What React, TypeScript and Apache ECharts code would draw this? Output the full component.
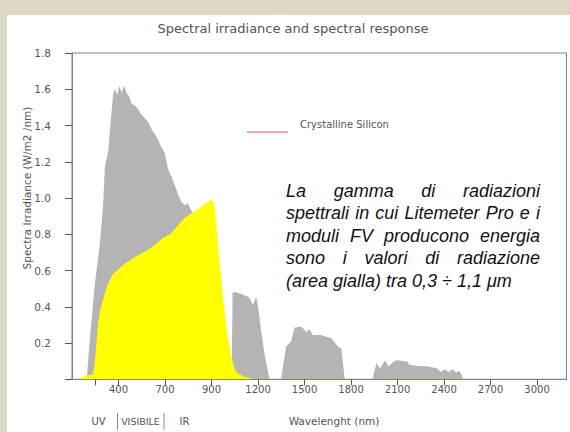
import React, { useEffect, useRef } from "react";
import * as echarts from "echarts";

// Spectral irradiance (grey area): wavelength (nm) and value (W/m2/nm)
const GRAY_NM = [95, 116, 148, 180, 191, 201, 212, 234, 244, 266, 277, 292, 305, 320, 335, 352, 369, 384, 405, 427, 448, 470, 491, 513, 545, 577, 598, 620, 641, 663, 684, 706, 727, 748, 770, 800, 850, 880, 910, 940, 960, 975, 1030, 1036, 1060, 1092, 1124, 1145, 1167, 1188, 1199, 1220, 1242, 1274, 1349, 1381, 1413, 1437, 1480, 1512, 1529, 1555, 1606, 1673, 1716, 1738, 1759, 1938, 1964, 1986, 2020, 2041, 2078, 2100, 2164, 2175, 2239, 2303, 2357, 2378, 2406, 2428, 2458, 2479, 2496, 2514, 2522];
const GRAY_VAL = [0, 0.23, 0.53, 0.75, 0.86, 0.97, 1.17, 1.26, 1.37, 1.58, 1.6, 1.57, 1.62, 1.58, 1.62, 1.58, 1.56, 1.52, 1.51, 1.49, 1.46, 1.44, 1.42, 1.38, 1.34, 1.28, 1.25, 1.16, 1.12, 1.07, 1.02, 0.98, 0.96, 0.97, 0.93, 0.9, 0.84, 0.78, 0.6, 0.35, 0.15, 0, 0, 0.48, 0.48, 0.47, 0.46, 0.45, 0.41, 0.455, 0.41, 0.27, 0.14, 0, 0, 0.18, 0.21, 0.286, 0.29, 0.26, 0.277, 0.244, 0.245, 0.226, 0.18, 0.17, 0, 0, 0.09, 0.06, 0.105, 0.07, 0.1, 0.105, 0.097, 0.08, 0.073, 0.07, 0.06, 0.04, 0.055, 0.04, 0.055, 0.036, 0.047, 0.024, 0];

// Crystalline silicon response (yellow area)
const YELLOW_NM = [50, 90, 137, 169, 185, 201, 217, 234, 266, 330, 416, 502, 587, 631, 727, 813, 877, 899, 912, 920, 941, 973, 1006, 1038, 1060, 1113, 1156, 1170];
const YELLOW_VAL = [0, 0.02, 0.03, 0.31, 0.39, 0.44, 0.49, 0.53, 0.58, 0.63, 0.68, 0.72, 0.78, 0.8, 0.89, 0.94, 0.98, 0.99, 0.98, 0.95, 0.75, 0.46, 0.23, 0.09, 0.04, 0.014, 0.005, 0];

// X axis ticks as drawn in the picture
const TICK_POS = [150, 300, 600, 900, 1200, 1500, 1800, 2100, 2400, 2700, 3000];
const LABEL_POS = [300, 600, 900, 1200, 1500, 1800, 2100, 2400, 2700, 3000];
const TICK_LABELS = ["400", "700", "900", "1200", "1500", "1800", "2100", "2400", "2700", "3000"];

const TITLE = "Spectral irradiance and spectral response";
const Y_NAME = "Spectra Irradiance (W/m2 /nm)";
const X_NAME = "Wavelenght (nm)";
const LEGEND_NAME = "Crystalline Silicon";
const NOTE_LINES = [
  "La gamma di radiazioni",
  "spettrali in cui Litemeter Pro e i",
  "moduli FV producono energia",
  "sono i valori di radiazione",
  "(area gialla) tra 0,3 ÷ 1,1 μm",
];

const FONT = "'DejaVu Sans', sans-serif";
const TXT = "#555";
const FRAME = "#7c7ab4";

export default function App() {
  const ref = useRef<HTMLDivElement>(null);
  useEffect(() => {
    const el = ref.current;
    if (!el) return;
    const chart = echarts.init(el, null, { renderer: "svg" });

    const gray = GRAY_NM.map((x, i) => [x, GRAY_VAL[i]]);
    const yellow = YELLOW_NM.map((x, i) => [x, YELLOW_VAL[i]]);

    // justified note text
    const noteFont = "italic 18px 'Liberation Sans', Arial, sans-serif";
    const canvas = document.createElement("canvas");
    const ctx = canvas.getContext("2d");
    const measure = (s: string) => {
      if (ctx) {
        ctx.font = noteFont;
        return ctx.measureText(s).width;
      }
      return s.length * 8;
    };
    const noteLeft = 286;
    const noteRight = 540;
    const noteTop = 191;
    const noteLH = 22.4;
    const noteEls: any[] = [];
    NOTE_LINES.forEach((line, li) => {
      const y = noteTop + li * noteLH;
      const words = line.split(" ");
      if (li === NOTE_LINES.length - 1 || words.length < 2) {
        noteEls.push({
          type: "text",
          x: noteLeft,
          y,
          silent: true,
          style: { text: line, font: noteFont, fill: "#111", align: "left", verticalAlign: "middle" },
        });
        return;
      }
      const widths = words.map(measure);
      const total = widths.reduce((a, b) => a + b, 0);
      const gap = (noteRight - noteLeft - total) / (words.length - 1);
      let x = noteLeft;
      words.forEach((w, wi) => {
        noteEls.push({
          type: "text",
          x,
          y,
          silent: true,
          style: { text: w, font: noteFont, fill: "#111", align: "left", verticalAlign: "middle" },
        });
        x += widths[wi] + gap;
      });
    });

    const smallText = (text: string, x: number, y: number, size: number, align = "center", rotation = 0) => ({
      type: "text",
      x,
      y,
      rotation,
      silent: true,
      style: { text, fill: TXT, fontSize: size, fontFamily: FONT, align, verticalAlign: "middle" },
    });

    const option: any = {
      animation: false,
      backgroundColor: "#ddd8c4",
      grid: {
        left: 72,
        top: 53,
        right: 3.5,
        bottom: 52.7,
        containLabel: false,
        outerBoundsMode: "none",
        show: true,
        borderColor: FRAME,
        borderWidth: 1,
        backgroundColor: "transparent",
      },
      xAxis: {
        type: "value",
        min: 0,
        max: 3190,
        axisLine: { show: true, lineStyle: { color: FRAME, width: 1 } },
        axisTick: { show: true, length: 6, lineStyle: { color: "#555" }, customValues: TICK_POS },
        axisLabel: {
          customValues: LABEL_POS,
          formatter: (v: number) => {
            const i = LABEL_POS.indexOf(v);
            return i >= 0 ? TICK_LABELS[i] : "";
          },
          margin: 5,
          fontSize: 10,
          color: TXT,
          fontFamily: FONT,
        },
        splitLine: { show: false },
      },
      yAxis: {
        type: "value",
        min: 0,
        max: 1.8,
        interval: 0.2,
        axisLine: { show: true, lineStyle: { color: FRAME, width: 1 } },
        axisTick: { show: true, length: 7, lineStyle: { color: "#555" } },
        axisLabel: {
          formatter: (v: number) => (v === 0 ? "" : v.toFixed(1)),
          margin: 21,
          fontSize: 10.5,
          color: TXT,
          fontFamily: FONT,
        },
        splitLine: { show: false },
      },
      series: [
        {
          type: "line",
          name: "Spectral irradiance",
          data: gray,
          showSymbol: false,
          silent: true,
          z: 2,
          lineStyle: { width: 0, opacity: 0 },
          areaStyle: { color: "#b4b4b4", opacity: 1 },
        },
        {
          type: "line",
          name: LEGEND_NAME,
          data: yellow,
          showSymbol: false,
          silent: true,
          smooth: 0.2,
          z: 3,
          lineStyle: { width: 0, opacity: 0 },
          areaStyle: { color: "#ffff00", opacity: 1 },
        },
      ],
      graphic: [
        {
          type: "rect",
          z: -100,
          silent: true,
          shape: { x: 7, y: 15, width: 563, height: 417 },
          style: { fill: "#ffffff" },
        },
        smallText(TITLE, 293, 28, 13),
        smallText(Y_NAME, 27, 188, 10.5, "center", Math.PI / 2),
        {
          type: "line",
          silent: true,
          shape: { x1: 247, y1: 132, x2: 288, y2: 132 },
          style: { stroke: "#d4587a", lineWidth: 1 },
        },
        smallText(LEGEND_NAME, 300, 124, 10, "left"),
        smallText("UV", 98.5, 421, 10),
        {
          type: "line",
          silent: true,
          shape: { x1: 117.5, y1: 413, x2: 117.5, y2: 430 },
          style: { stroke: "#d07070", lineWidth: 1 },
        },
        smallText("VISIBILE", 140.5, 421, 9.5),
        {
          type: "line",
          silent: true,
          shape: { x1: 164, y1: 413, x2: 164, y2: 430 },
          style: { stroke: "#d07070", lineWidth: 1 },
        },
        smallText("IR", 184.5, 421, 10),
        smallText(X_NAME, 334, 421, 10.5),
        ...noteEls,
      ],
    };
    chart.setOption(option);
    return () => chart.dispose();
  }, []);
  return <div ref={ref} style={{ position: "fixed", left: 0, top: 0, width: 570, height: 432 }} />;
}
